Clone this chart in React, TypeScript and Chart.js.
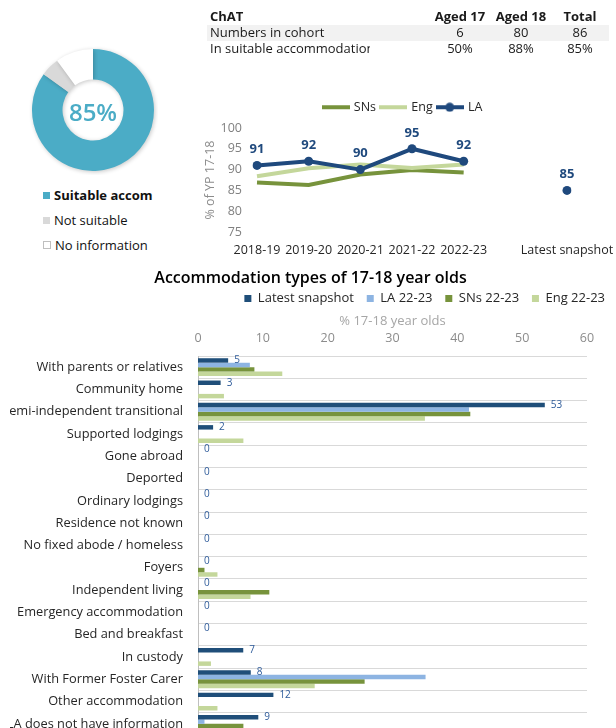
import React, { useEffect, useRef } from 'react';
import { Chart, registerables } from 'chart.js';

Chart.register(...registerables);

const FONT = "'Open Sans', 'Noto Sans', sans-serif";
Chart.defaults.font.family = FONT;

// ---------- Donut ----------
const donutLabels = ['Suitable accom', 'Not suitable', 'No information'];
const donutValues = [85, 5, 10];
const donutColors = ['#4BACC6', '#D9D9D9', '#FFFFFF'];
const donutCentre = '85%';

// ---------- Table ----------
const tableTitle = 'ChAT';
const tableCols = ['Aged 17', 'Aged 18', 'Total'];
const tableRowLabels = ['Numbers in cohort', 'In suitable accommodation'];
const cohortNumbers = ['6', '80', '86'];
const suitablePct = ['50%', '88%', '85%'];

// ---------- Trend line chart ----------
const trendLabels = ['2018-19', '2019-20', '2020-21', '2021-22', '2022-23', '', 'Latest snapshot'];
const snsTrend = [86.9, 86.3, 88.8, 89.9, 89.3, null, null];
const engTrend = [88.4, 90.3, 91.2, 90.4, 91.2, null, null];
const laTrend = [91, 92, 90, 95, 92, null, null];
const laLatest = [null, null, null, null, null, null, 85];

// ---------- Accommodation bar chart ----------
const accomTypes = [
  'With parents or relatives',
  'Community home',
  'Semi-independent transitional',
  'Supported lodgings',
  'Gone abroad',
  'Deported',
  'Ordinary lodgings',
  'Residence not known',
  'No fixed abode / homeless',
  'Foyers',
  'Independent living',
  'Emergency accommodation',
  'Bed and breakfast',
  'In custody',
  'With Former Foster Carer',
  'Other accommodation',
  'LA does not have information',
];
const latestSnapshot = [4.65, 3.49, 53.49, 2.33, 0, 0, 0, 0, 0, 0, 0, 0, 0, 6.98, 8.14, 11.63, 9.3];
const la2223 = [8.0, 0, 41.8, 0, 0, 0, 0, 0, 0, 0, 0, 0, 0, 0, 35.1, 0, 1.0];
const sns2223 = [8.7, 0, 42.0, 0, 0, 0, 0, 0, 0, 1.0, 11.0, 0, 0, 0, 25.7, 0, 7.0];
const eng2223 = [13.0, 4.0, 35.0, 7.0, 0, 0, 0, 0, 0, 3.0, 8.1, 0, 0, 2.0, 18.0, 3.0, 6.0];
const barSeriesNames = ['Latest snapshot', 'LA 22-23', 'SNs 22-23', 'Eng 22-23'];

const NAVY = '#1F4E79';
const LA_LINE = '#1F497D';
const LIGHT_BLUE = '#8DB4E2';
const GREEN = '#77933C';
const LIGHT_GREEN = '#C4D79B';
const TEAL = '#4BACC6';

function legendLine(color: string, marker: boolean) {
  const c = document.createElement('canvas');
  c.width = 28;
  c.height = 10;
  const g = c.getContext('2d')!;
  g.strokeStyle = color;
  g.lineWidth = 4;
  g.beginPath();
  g.moveTo(0, 5);
  g.lineTo(28, 5);
  g.stroke();
  if (marker) {
    g.fillStyle = color;
    g.beginPath();
    g.arc(14, 5, 4.5, 0, Math.PI * 2);
    g.fill();
  }
  return c;
}

const legendExtra = {
  id: 'legendExtra',
  beforeLayout(chart: any, _args: any, opts: any) {
    const lg = chart.legend;
    if (lg && !lg.__patched) {
      const orig = lg.fit.bind(lg);
      lg.fit = function () {
        orig();
        this.height += (opts && opts.extra) || 0;
      };
      lg.__patched = true;
    }
  },
};

const lineLabels = {
  id: 'lineLabels',
  afterDatasetsDraw(chart: any) {
    const ctx = chart.ctx;
    ctx.save();
    ctx.font = `bold 13px ${FONT}`;
    ctx.fillStyle = LA_LINE;
    ctx.textAlign = 'center';
    ctx.textBaseline = 'middle';
    [2, 3].forEach((di) => {
      const meta = chart.getDatasetMeta(di);
      const data = chart.data.datasets[di].data;
      meta.data.forEach((pt: any, i: number) => {
        const v = data[i];
        if (v == null) return;
        ctx.fillText(String(Math.round(v)), pt.x, pt.y - 16);
      });
    });
    ctx.restore();
  },
};

const barLabels = {
  id: 'barLabels',
  afterDatasetsDraw(chart: any) {
    const ctx = chart.ctx;
    const meta = chart.getDatasetMeta(0);
    const data = chart.data.datasets[0].data;
    ctx.save();
    ctx.font = `10px ${FONT}`;
    ctx.fillStyle = '#2E5B9A';
    ctx.textAlign = 'left';
    ctx.textBaseline = 'middle';
    meta.data.forEach((el: any, i: number) => {
      const v = data[i];
      if (v == null) return;
      ctx.fillText(String(Math.round(v)), el.x + 6, el.y);
    });
    ctx.restore();
  },
};

const donutCenter = {
  id: 'donutCenter',
  afterDatasetsDraw(chart: any) {
    const ctx = chart.ctx;
    const arc = chart.getDatasetMeta(0).data[0];
    if (!arc) return;
    ctx.save();
    ctx.font = `600 24px ${FONT}`;
    ctx.fillStyle = TEAL;
    ctx.textAlign = 'center';
    ctx.textBaseline = 'middle';
    ctx.fillText(donutCentre, arc.x, arc.y + 4);
    ctx.restore();
  },
};

const donutShadow = {
  id: 'donutShadow',
  beforeDatasetsDraw(chart: any) {
    const ctx = chart.ctx;
    ctx.save();
    ctx.shadowColor = 'rgba(0,0,0,0.22)';
    ctx.shadowBlur = 4;
    ctx.shadowOffsetX = 1;
    ctx.shadowOffsetY = 1;
  },
  afterDatasetsDraw(chart: any) {
    chart.ctx.restore();
  },
};

export default function App() {
  const donutRef = useRef<HTMLCanvasElement>(null);
  const lineRef = useRef<HTMLCanvasElement>(null);
  const barRef = useRef<HTMLCanvasElement>(null);

  useEffect(() => {
    const charts: Chart[] = [];

    charts.push(
      new Chart(donutRef.current!, {
        type: 'doughnut',
        data: {
          labels: donutLabels,
          datasets: [{ data: donutValues, backgroundColor: donutColors, borderWidth: 0 }],
        },
        options: {
          responsive: false,
          animation: false,
          cutout: '50%',
          layout: { padding: 4 },
          plugins: { legend: { display: false }, tooltip: { enabled: false } },
        },
        plugins: [donutShadow, donutCenter],
      } as any)
    );

    const legendImgs = [legendLine(GREEN, false), legendLine(LIGHT_GREEN, false), legendLine(LA_LINE, true)];

    charts.push(
      new Chart(lineRef.current!, {
        type: 'line',
        data: {
          labels: trendLabels,
          datasets: [
            { label: 'SNs', data: snsTrend, borderColor: GREEN, backgroundColor: GREEN, borderWidth: 4, pointRadius: 0, order: 2 },
            { label: 'Eng', data: engTrend, borderColor: LIGHT_GREEN, backgroundColor: LIGHT_GREEN, borderWidth: 4, pointRadius: 0, order: 1 },
            {
              label: 'LA', data: laTrend, borderColor: LA_LINE, backgroundColor: LA_LINE, borderWidth: 4,
              pointRadius: 4.5, pointBackgroundColor: LA_LINE, pointBorderWidth: 0, borderJoinStyle: 'round', order: 0,
            },
            {
              label: 'LA latest', data: laLatest, showLine: false, borderColor: LA_LINE, backgroundColor: LA_LINE,
              pointRadius: 4.5, pointBackgroundColor: LA_LINE, pointBorderWidth: 0, order: 0,
            },
          ],
        },
        options: {
          responsive: false,
          animation: false,
          layout: { padding: { left: 0, right: 10, top: 1, bottom: 2.5 } },
          plugins: {
            tooltip: { enabled: false },
            legendExtra: { extra: 4.5 },
            legend: {
              position: 'top',
              align: 'center',
              labels: {
                usePointStyle: true,
                pointStyleWidth: 24,
                padding: 5,
                color: '#262626',
                font: { size: 12.5 },
                generateLabels: (chart: any) => {
                  const items = (Chart.defaults.plugins.legend.labels as any).generateLabels(chart);
                  return items
                    .filter((it: any) => it.datasetIndex < 3)
                    .sort((a: any, b: any) => a.datasetIndex - b.datasetIndex)
                    .map((it: any) => ({ ...it, pointStyle: legendImgs[it.datasetIndex], lineWidth: 0 }));
                },
              },
            },
          },
          scales: {
            x: {
              grid: { display: false, drawTicks: false },
              border: { display: false },
              ticks: { autoSkip: false, maxRotation: 0, padding: 10.5, color: '#262626', font: { size: 12.5 } },
              afterFit: (s: any) => { s.height = 25.5; s.paddingLeft = 0; s.paddingRight = 0; },
            },
            y: {
              min: 75,
              max: 100,
              grid: { display: false, drawTicks: false },
              border: { display: false },
              ticks: { stepSize: 5, padding: 15, color: '#808080', font: { size: 12.5 } },
              title: { display: true, text: '% of YP 17-18', color: '#8C8C8C', font: { size: 12.5 }, padding: { top: 2.5, bottom: 0 } },
              afterFit: (s: any) => { s.width = 57; s.paddingTop = 0; s.paddingBottom = 0; },
            },
            yR: {
              type: 'linear',
              position: 'right',
              display: true,
              grid: { display: false, drawTicks: false },
              border: { display: false },
              ticks: { display: false },
              afterFit: (s: any) => { s.width = 39; s.paddingTop = 0; s.paddingBottom = 0; },
            },
          },
        },
        plugins: [legendExtra, lineLabels],
      } as any)
    );

    const barColors = [NAVY, LIGHT_BLUE, GREEN, LIGHT_GREEN];
    const barData = [latestSnapshot, la2223, sns2223, eng2223];

    charts.push(
      new Chart(barRef.current!, {
        type: 'bar',
        data: {
          labels: accomTypes,
          datasets: barData.map((d, i) => ({
            label: barSeriesNames[i],
            data: d,
            backgroundColor: barColors[i],
            borderWidth: 0,
            categoryPercentage: 0.8,
            barPercentage: 1.0,
          })),
        },
        options: {
          indexAxis: 'y',
          responsive: false,
          animation: false,
          layout: { padding: { left: 10, right: 5, top: 0, bottom: 9 } },
          plugins: {
            tooltip: { enabled: false },
            title: {
              display: true,
              text: 'Accommodation types of 17-18 year olds',
              color: '#000',
              font: { size: 16, weight: '600', lineHeight: 1 },
              padding: { top: 8, bottom: 0 },
            },
            legend: {
              position: 'top',
              align: 'end',
              labels: {
                boxWidth: 7,
                boxHeight: 7,
                padding: 6,
                color: '#262626',
                font: { size: 13 },
                generateLabels: (chart: any) => {
                  const items = (Chart.defaults.plugins.legend.labels as any).generateLabels(chart);
                  return items.map((it: any, i: number) => ({
                    ...it,
                    text: i < items.length - 1 ? it.text + '  ' : it.text,
                    lineWidth: 0,
                  }));
                },
              },
            },
          },
          scales: {
            x: {
              position: 'top',
              min: 0,
              max: 60,
              grid: { display: false, drawTicks: false },
              border: { display: false },
              ticks: { stepSize: 10, padding: 10.5, color: '#8C8C8C', font: { size: 12.5 } },
              title: {
                display: true,
                text: '% 17-18 year olds',
                color: '#A6A6A6',
                font: { size: 13, lineHeight: 1 },
                padding: { top: 0, bottom: 2 },
              },
              afterFit: (s: any) => { s.height = 41; s.paddingLeft = 0; s.paddingRight = 0; },
            },
            y: {
              grid: { color: '#D9D9D9', drawTicks: false, lineWidth: 1 },
              border: { display: true, color: '#BFBFBF', width: 1 },
              ticks: { autoSkip: false, padding: 15, color: '#262626', font: { size: 12.8 } },
              afterFit: (s: any) => { s.width = 188; s.paddingTop = 0; s.paddingBottom = 0; },
            },
            yR: {
              type: 'linear',
              axis: 'y',
              position: 'right',
              display: true,
              grid: { display: false, drawTicks: false },
              border: { display: false },
              ticks: { display: false },
              afterFit: (s: any) => { s.width = 24; s.paddingTop = 0; s.paddingBottom = 0; },
            },
          },
        },
        plugins: [barLabels],
      } as any)
    );

    return () => charts.forEach((c) => c.destroy());
  }, []);

  const txt = '#1a1a1a';
  const rowTops = [9, 25, 40.5];
  const colCentres = [460, 521, 580];
  const rowH = 15.5;

  const cell = (text: string, centre: number, top: number, bold: boolean, key: string) => (
    <div
      key={key}
      style={{
        position: 'absolute', left: centre - 40, width: 80, top, height: rowH, lineHeight: `${rowH}px`,
        textAlign: 'center', fontWeight: bold ? 700 : 400, whiteSpace: 'nowrap',
      }}
    >
      {text}
    </div>
  );

  const legendRow = (label: string, color: string, centreY: number, bold: boolean, border: boolean) => (
    <div key={label} style={{ position: 'absolute', left: 43, top: centreY - 9, height: 18, display: 'flex', alignItems: 'center', whiteSpace: 'nowrap' }}>
      <div style={{ width: border ? 6 : 7, height: border ? 6 : 7, background: color, border: border ? '0.5px solid #BFBFBF' : 'none', marginRight: 4 }} />
      <span style={{ fontSize: 13, fontWeight: bold ? 700 : 400, color: '#111' }}>{label}</span>
    </div>
  );

  return (
    <div style={{ position: 'fixed', left: 0, top: 0, width: 616, height: 728, overflow: 'hidden', background: '#fff', fontFamily: FONT, color: txt }}>
      {/* donut */}
      <canvas ref={donutRef} width={130} height={130} style={{ position: 'absolute', left: 28, top: 45, width: 130, height: 130 }} />
      {legendRow(donutLabels[0], donutColors[0], 195, true, false)}
      {legendRow(donutLabels[1], donutColors[1], 220, false, false)}
      {legendRow(donutLabels[2], donutColors[2], 245, false, true)}

      {/* table */}
      <div style={{ position: 'absolute', left: 207, top: rowTops[1], width: 402, height: rowH, background: '#F2F2F2' }} />
      <div style={{ position: 'absolute', fontSize: 13, left: 0, top: 0, width: 616, height: 60 }}>
        <div style={{ position: 'absolute', left: 210, top: rowTops[0], height: rowH, lineHeight: `${rowH}px`, fontWeight: 700 }}>{tableTitle}</div>
        {tableCols.map((c, i) => cell(c, colCentres[i], rowTops[0], true, 'h' + i))}
        <div style={{ position: 'absolute', left: 210, top: rowTops[1], height: rowH, lineHeight: `${rowH}px`, whiteSpace: 'nowrap' }}>{tableRowLabels[0]}</div>
        {cohortNumbers.map((c, i) => cell(c, colCentres[i], rowTops[1], false, 'n' + i))}
        <div style={{ position: 'absolute', left: 210, top: rowTops[2], width: 160, overflow: 'hidden', height: rowH, lineHeight: `${rowH}px`, whiteSpace: 'nowrap' }}>{tableRowLabels[1]}</div>
        {suitablePct.map((c, i) => cell(c, colCentres[i], rowTops[2], false, 'p' + i))}
      </div>

      {/* trend line chart */}
      <canvas ref={lineRef} width={416} height={165} style={{ position: 'absolute', left: 200, top: 95, width: 416, height: 165 }} />

      {/* bar chart */}
      <canvas ref={barRef} width={616} height={482} style={{ position: 'absolute', left: 0, top: 262, width: 616, height: 482 }} />
    </div>
  );
}
